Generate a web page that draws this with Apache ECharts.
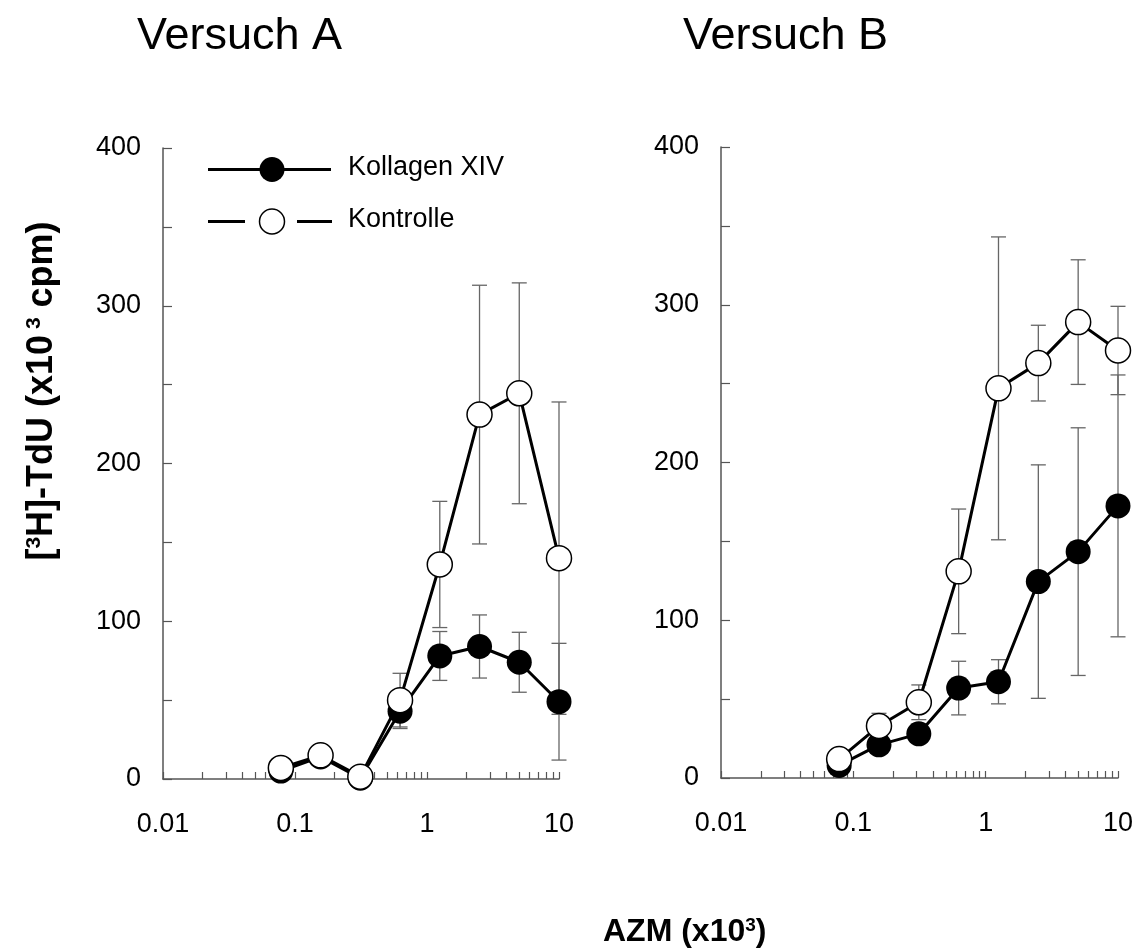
<!DOCTYPE html>
<html>
<head>
<meta charset="utf-8">
<script src="https://cdn.jsdelivr.net/npm/echarts@6/dist/echarts.min.js"></script>
<style>
  html, body { margin: 0; padding: 0; background: #fff; }
  #chart { width: 1140px; height: 949px; }
</style>
</head>
<body>
<div id="chart"></div>
<script>
// AZM doses (x10^3), serial 1:2 dilution
const doses = [0.078125, 0.15625, 0.3125, 0.625, 1.25, 2.5, 5, 10];

// Versuch A
const kollagenA    = [5, 14, 0.5, 43, 78, 84, 74, 49];
const kollagenAErr = [0, 0, 0, 11, 15.5, 20, 19, 37];
const kontrolleA    = [7, 15, 1.5, 50, 136, 231, 244.5, 140];
const kontrolleAErr = [0, 0, 0, 17, 40, 82, 70, 99];

// Versuch B
const kollagenB    = [8, 21, 28, 57, 61, 124.5, 143.5, 172.5];
const kollagenBErr = [0, 0, 0, 17, 14, 74, 78.5, 83];
const kontrolleB    = [12, 33, 48, 131, 247, 263, 289, 271];
const kontrolleBErr = [0, 8, 11, 39.5, 96, 24, 39.5, 28];

// Axis ticks
const xTickLabels = [0.01, 0.1, 1, 10];
const xTickMarks = [
  0.01, 0.02, 0.03, 0.04, 0.05, 0.06, 0.07, 0.08, 0.09,
  0.1, 0.2, 0.3, 0.4, 0.5, 0.6, 0.7, 0.8, 0.9,
  1, 2, 3, 4, 5, 6, 7, 8, 9, 10
];
const yTickLabels = [0, 100, 200, 300, 400];

const FONT = 'Liberation Sans, Arial, sans-serif';
const AXIS_COLOR = '#555';
const ERR_COLOR = '#666';

const chart = echarts.init(document.getElementById('chart'), null, { renderer: 'canvas' });

function xAxis(gridIndex) {
  return {
    type: 'log', logBase: 10, gridIndex, min: 0.01, max: 10,
    axisLine: { show: true, onZero: false, lineStyle: { color: AXIS_COLOR, width: 1.5 } },
    axisTick: { show: true, inside: true, length: 7, customValues: xTickMarks,
                lineStyle: { color: AXIS_COLOR, width: 1.2 } },
    axisLabel: { show: true, customValues: xTickLabels, margin: 32,
                 formatter: v => String(v), color: '#000', fontSize: 27, fontFamily: FONT },
    splitLine: { show: false },
    minorTick: { show: false }
  };
}

function yAxis(gridIndex) {
  return {
    type: 'value', gridIndex, min: 0, max: 400, interval: 50,
    axisLine: { show: true, lineStyle: { color: AXIS_COLOR, width: 1.5 } },
    axisTick: { show: true, inside: true, length: 9, lineStyle: { color: AXIS_COLOR, width: 1.2 } },
    axisLabel: { margin: 22, color: '#000', fontSize: 27, fontFamily: FONT,
                 formatter: v => (yTickLabels.indexOf(v) >= 0 ? String(v) : '') },
    splitLine: { show: false }
  };
}

// Vertical error bars with caps, drawn beneath the markers
function errorBars(idx, values, errors) {
  const rows = [];
  doses.forEach((d, i) => {
    if (errors[i] > 0) rows.push([d, values[i] - errors[i], values[i] + errors[i]]);
  });
  return {
    type: 'custom', xAxisIndex: idx, yAxisIndex: idx, z: 1, silent: true,
    data: rows,
    renderItem(params, api) {
      const lo = api.coord([api.value(0), api.value(1)]);
      const hi = api.coord([api.value(0), api.value(2)]);
      const w = 7.5;
      const style = { stroke: ERR_COLOR, lineWidth: 1.3 };
      return {
        type: 'group',
        children: [
          { type: 'line', shape: { x1: lo[0], y1: lo[1], x2: hi[0], y2: hi[1] }, style },
          { type: 'line', shape: { x1: lo[0] - w, y1: lo[1], x2: lo[0] + w, y2: lo[1] }, style },
          { type: 'line', shape: { x1: hi[0] - w, y1: hi[1], x2: hi[0] + w, y2: hi[1] }, style }
        ]
      };
    }
  };
}

function curve(idx, name, values, filled) {
  return {
    type: 'line', name, xAxisIndex: idx, yAxisIndex: idx, z: filled ? 3 : 4,
    data: doses.map((d, i) => [d, values[i]]),
    symbol: 'circle', symbolSize: 25, showAllSymbol: true,
    lineStyle: { color: '#000', width: 3 },
    itemStyle: filled ? { color: '#000' } : { color: '#fff', borderColor: '#000', borderWidth: 1.5 },
    emphasis: { disabled: true }
  };
}

const option = {
  animation: false,
  backgroundColor: '#fff',
  grid: [
    { left: 163, top: 148, width: 396, height: 631 },
    { left: 721, top: 147, width: 397, height: 631 }
  ],
  xAxis: [xAxis(0), xAxis(1)],
  yAxis: [yAxis(0), yAxis(1)],
  series: [
    errorBars(0, kollagenA, kollagenAErr),
    errorBars(0, kontrolleA, kontrolleAErr),
    curve(0, 'Kollagen XIV', kollagenA, true),
    curve(0, 'Kontrolle', kontrolleA, false),
    errorBars(1, kollagenB, kollagenBErr),
    errorBars(1, kontrolleB, kontrolleBErr),
    curve(1, 'Kollagen XIV', kollagenB, true),
    curve(1, 'Kontrolle', kontrolleB, false)
  ],
  graphic: [
    // panel titles
    { type: 'text', left: 137, top: 14, style: { text: 'Versuch A', font: '45px ' + FONT, fill: '#000' } },
    { type: 'text', left: 683, top: 14, style: { text: 'Versuch B', font: '45px ' + FONT, fill: '#000' } },
    // legend
    { type: 'line', shape: { x1: 208, y1: 169.5, x2: 331, y2: 169.5 }, style: { stroke: '#000', lineWidth: 3 } },
    { type: 'circle', shape: { cx: 272, cy: 169.5, r: 12.5 }, style: { fill: '#000' } },
    { type: 'line', shape: { x1: 208, y1: 221.5, x2: 245, y2: 221.5 }, style: { stroke: '#000', lineWidth: 3 } },
    { type: 'line', shape: { x1: 297, y1: 221.5, x2: 332, y2: 221.5 }, style: { stroke: '#000', lineWidth: 3 } },
    { type: 'circle', shape: { cx: 272, cy: 221.5, r: 12.5 }, style: { fill: '#fff', stroke: '#000', lineWidth: 1.5 } },
    { type: 'text', x: 348, y: 168, style: { text: 'Kollagen XIV', font: '27px ' + FONT, fill: '#000', verticalAlign: 'middle' } },
    { type: 'text', x: 348, y: 220, style: { text: 'Kontrolle', font: '27px ' + FONT, fill: '#000', verticalAlign: 'middle' } },
    // y-axis title
    {
      type: 'text', x: 42, y: 391, rotation: Math.PI / 2,
      style: {
        text: '[{sup|3}H]-TdU (x10{sup| 3} cpm)',
        font: 'bold 36px ' + FONT, fill: '#000', align: 'center', verticalAlign: 'middle',
        rich: { sup: { font: 'bold 21px ' + FONT, fill: '#000', verticalAlign: 'top', lineHeight: 21 } }
      }
    },
    // x-axis title
    {
      type: 'text', x: 603, y: 932,
      style: {
        text: 'AZM (x10{sup|3})',
        font: 'bold 32px ' + FONT, fill: '#000', verticalAlign: 'middle',
        rich: { sup: { font: 'bold 19px ' + FONT, fill: '#000', verticalAlign: 'top', lineHeight: 19 } }
      }
    }
  ]
};

chart.setOption(option);
</script>
</body>
</html>
